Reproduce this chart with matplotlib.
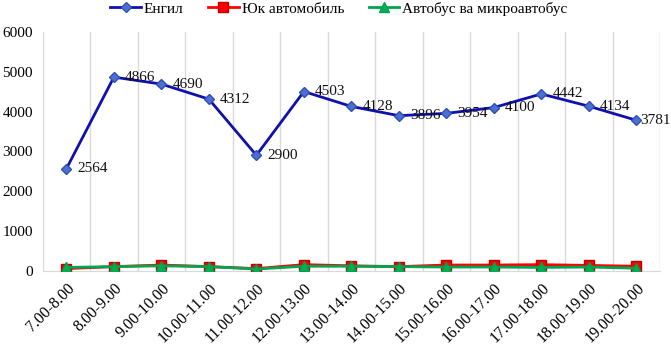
import matplotlib
matplotlib.use("Agg")
import matplotlib.pyplot as plt
import numpy as np

categories = ["7.00-8.00", "8.00-9.00", "9.00-10.00", "10.00-11.00", "11.00-12.00",
              "12.00-13.00", "13.00-14.00", "14.00-15.00", "15.00-16.00", "16.00-17.00",
              "17.00-18.00", "18.00-19.00", "19.00-20.00"]
engil = [2564, 4866, 4690, 4312, 2900, 4503, 4128, 3896, 3954, 4100, 4442, 4134, 3781]
yuk = [50, 100, 140, 100, 50, 150, 120, 100, 140, 140, 150, 130, 110]
avtobus = [80, 100, 120, 100, 40, 110, 110, 100, 90, 90, 80, 90, 60]
yticks = [0, 1000, 2000, 3000, 4000, 5000, 6000]

plt.rcParams['font.family'] = ['Liberation Serif', 'DejaVu Serif']
FS = 11

fig = plt.figure(figsize=(6.71, 3.48), dpi=100)
ax = fig.add_axes([42.7/671, 1 - 270.6/348, (660-42.7)/671, (270.6-32)/348])

x = np.arange(len(categories))
ax.plot(x, engil, color='#1010B0', lw=2.0, marker='D', ms=5,
        mfc='#4F6FD0', mec='#3050B8', label='Енгил', zorder=3)
ax.plot(x, yuk, color='#FF0000', lw=2.0, marker='s', ms=6.5,
        mfc='#FF0000', mec='#C00000', label='Юк автомобиль', zorder=3)
ax.plot(x, avtobus, color='#00A550', lw=2.0, marker='^', ms=6.5,
        mfc='#00B050', mec='#00A050', label='Автобус ва микроавтобус', zorder=4)

for i, (xi, v) in enumerate(zip(x, engil)):
    dx = 3 if i == len(engil) - 1 else 8
    ax.annotate(str(v), (xi, v), xytext=(dx, 0), textcoords='offset points',
                ha='left', va='center', fontsize=FS, color='#111111', zorder=5,
                annotation_clip=False)

ax.set_xlim(-0.5, len(categories) - 0.5)
ax.set_ylim(0, 6000)
ax.set_yticks(yticks)
ax.set_yticklabels([str(t) for t in yticks], fontsize=FS)
ax.set_xticks(x)
ax.set_xticklabels(categories, rotation=45, ha='right', rotation_mode='anchor', fontsize=11.5)
ax.tick_params(axis='both', length=0, pad=7)
ax.tick_params(axis='x', pad=7)

for b in np.arange(-0.5, len(categories) + 0.5, 1):
    ax.axvline(b, color='#D9D9D9', lw=1.0, zorder=1)

for s in ['top', 'right', 'left']:
    ax.spines[s].set_visible(False)
ax.spines['bottom'].set_color('#D9D9D9')

fig.legend(loc='upper center', bbox_to_anchor=(0.505, 1.035), ncol=3, frameon=False,
           fontsize=FS, handlelength=2.0, columnspacing=1.6, handletextpad=0.2)

fig.savefig('out.png', dpi=100)
